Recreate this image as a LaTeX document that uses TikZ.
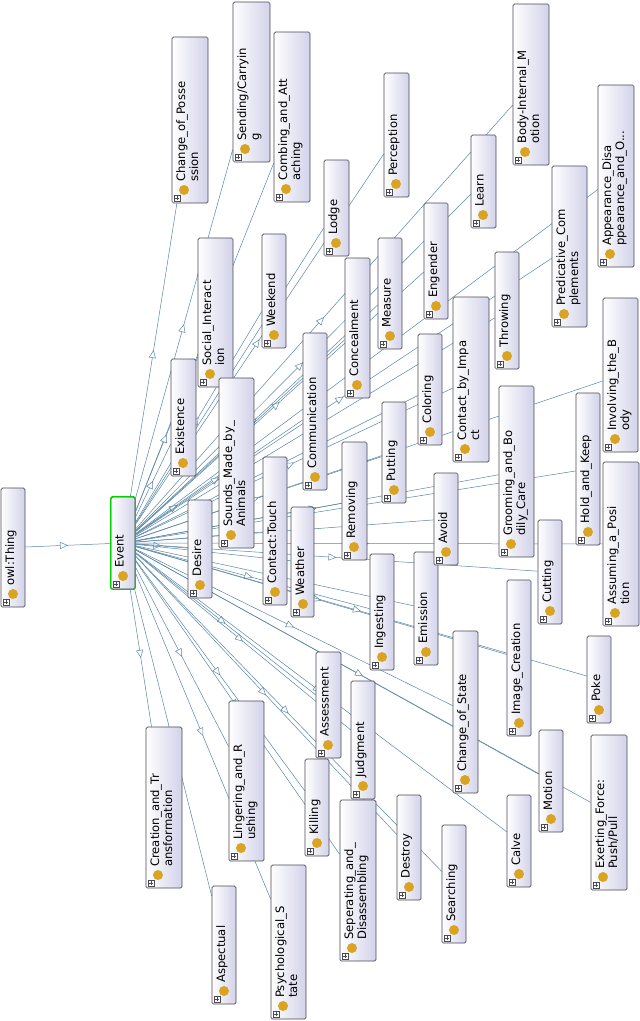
\documentclass[tikz,border=0pt]{standalone}
\usepackage{fontspec}
\setmainfont{DejaVu Sans}
\usetikzlibrary{fit,arrows.meta,decorations.markings,backgrounds}
\definecolor{lav}{HTML}{D2D2EA}
\definecolor{gold}{HTML}{D9A422}
\definecolor{edgec}{HTML}{5B86A8}
\definecolor{bord}{HTML}{4A4A55}
\tikzset{
  clsbox/.style={draw=bord,line width=0.7pt,rounded corners=1.5pt,left color=white,right color=lav,inner sep=0pt},
  lbl/.style={rotate=90,anchor=north west,inner sep=0pt,align=left,font=\fontsize{11.6}{13}\selectfont},
  edge/.style={draw=edgec,line width=0.5pt,postaction={decorate},
    decoration={markings,mark=at position 0.5 with {\arrow{Triangle[open,length=8pt,width=7pt,fill=white]}}}}
}
\newcommand\cls[6]{%
  \node[clsbox,fit={(#2,#3) (#4,#5)}] (#1) {};
  \fill[gold] (#2+12,#5-13) circle (5);
  \draw[bord,line width=0.4pt,fill=white] (#2+2,#5-2) rectangle (#2+8,#5-8);
  \draw[bord,line width=0.4pt] (#2+3.2,#5-5) -- (#2+6.8,#5-5) (#2+5,#5-3.2) -- (#2+5,#5-6.8);
  \node[lbl] at (#2+4,#5-21) {#6};
}
\begin{document}
\begin{tikzpicture}[x=1pt,y=-1pt]
\useasboundingbox (0,0) rectangle (640,1021);
\cls{thing}{1}{488}{25}{607}{owl:Thing}
\cls{ev}{111}{497}{135}{589}{Event}
\draw[green!70!black!60!green,line width=0.9pt,rounded corners=1.5pt] (ev.north west) rectangle (ev.south east);
\cls{a1}{172}{37}{208}{203}{Change\_of\_Posse\\ssion}
\cls{a2}{233}{2}{270}{162}{Sending/Carryin\\g}
\cls{a3}{274}{32}{310}{202}{Combing\_and\_Att\\aching}
\cls{a4}{198}{238}{233}{387}{Social\_Interact\\ion}
\cls{a5}{262}{234}{286}{348}{Weekend}
\cls{a6}{171}{359}{196}{476}{Existence}
\cls{a7}{219}{378}{254}{548}{Sounds\_Made\_by\_\\Animals}
\cls{a8}{263}{457}{287}{605}{Contact:Touch}
\cls{a9}{303}{333}{327}{490}{Communication}
\cls{a10}{188}{500}{212}{598}{Desire}
\cls{a11}{291}{507}{314}{617}{Weather}
\cls{a12}{146}{727}{182}{888}{Creation\_and\_Tr\\ansformation}
\cls{a13}{229}{701}{264}{861}{Lingering\_and\_R\\ushing}
\cls{a14}{212}{886}{236}{1004}{Aspectual}
\cls{a15}{271}{865}{306}{1019}{Psychological\_S\\tate}
\cls{a16}{305}{759}{329}{856}{Killing}
\cls{a17}{316}{652}{341}{758}{Assessment}
\cls{a18}{351}{681}{375}{799}{Judgment}
\cls{a19}{340}{800}{376}{961}{Seperating\_and\_\\Disassembling}
\cls{a20}{397}{795}{421}{900}{Destroy}
\cls{a21}{442}{825}{466}{943}{Searching}
\cls{a22}{370}{554}{394}{670}{Ingesting}
\cls{a23}{414}{552}{438}{665}{Emission}
\cls{a24}{453}{631}{478}{793}{Change\_of\_State}
\cls{a25}{507}{580}{531}{736}{Image\_Creation}
\cls{a26}{538}{520}{562}{624}{Cutting}
\cls{a27}{587}{636}{611}{723}{Poke}
\cls{a28}{539}{730}{563}{832}{Motion}
\cls{a29}{507}{795}{531}{887}{Calve}
\cls{a30}{591}{735}{627}{890}{Exerting\_Force:\\Push/Pull}
\cls{a31}{603}{462}{639}{626}{Assuming\_a\_Posi\\tion}
\cls{a32}{576}{393}{600}{545}{Hold\_and\_Keep}
\cls{a33}{603}{298}{638}{452}{Involving\_the\_B\\ody}
\cls{a34}{499}{386}{534}{557}{Grooming\_and\_Bo\\dily\_Care}
\cls{a35}{434}{473}{458}{565}{Avoid}
\cls{a36}{342}{442}{367}{560}{Removing}
\cls{a37}{382}{402}{406}{503}{Putting}
\cls{a38}{418}{334}{442}{445}{Coloring}
\cls{a39}{453}{297}{489}{462}{Contact\_by\_Impa\\ct}
\cls{a40}{495}{252}{519}{369}{Throwing}
\cls{a41}{552}{166}{587}{327}{Predicative\_Com\\plements}
\cls{a42}{598}{85}{634}{267}{Appearance\_Disa\\ppearance\_and\_O...}
\cls{a43}{513}{4}{549}{165}{Body-Internal\_M\\otion}
\cls{a44}{471}{135}{496}{228}{Learn}
\cls{a45}{424}{203}{448}{319}{Engender}
\cls{a46}{378}{238}{402}{349}{Measure}
\cls{a47}{345}{258}{370}{398}{Concealment}
\cls{a48}{324}{160}{349}{256}{Lodge}
\cls{a49}{384}{73}{409}{197}{Perception}
\begin{scope}[on background layer]
\fill[white] (0,0) rectangle (640,1021);
\draw[edge] (thing) -- (ev);
\foreach \n in {a1,a2,a3,a4,a5,a6,a7,a8,a9,a10,a11,a12,a13,a14,a15,a16,a17,a18,a19,a20,a21,a22,a23,a24,a25,a26,a27,a28,a29,a30,a31,a32,a33,a34,a35,a36,a37,a38,a39,a40,a41,a42,a43,a44,a45,a46,a47,a48,a49}
  \draw[edge] (ev) -- (\n);
\end{scope}
\end{tikzpicture}
\end{document}
